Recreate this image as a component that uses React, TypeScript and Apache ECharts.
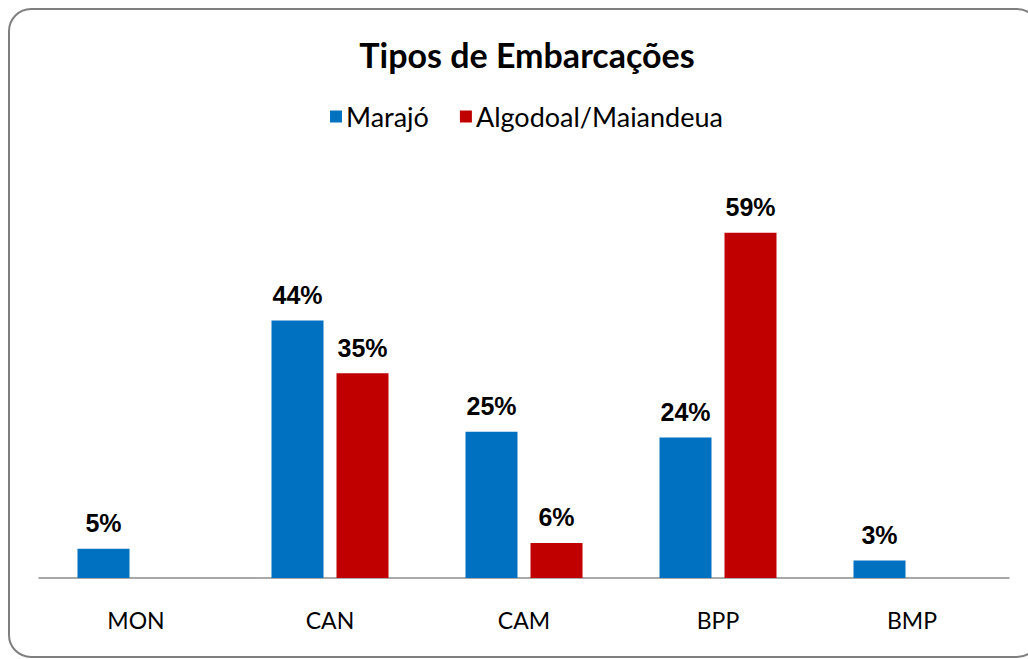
import React, { useEffect, useRef } from "react";
import * as echarts from "echarts";

const categories = ["MON", "CAN", "CAM", "BPP", "BMP"];
const marajo = [5, 44, 25, 24, 3];
const algodoal = [null, 35, 6, 59, null];
const seriesNames = ["Marajó", "Algodoal/Maiandeua"];
const titleText = "Tipos de Embarcações";

export default function App() {
  const ref = useRef<HTMLDivElement>(null);
  useEffect(() => {
    const chart = echarts.init(ref.current!, null, { renderer: "svg" });
    const labelStyle = {
      show: true,
      position: "top",
      distance: 13,
      formatter: "{c}%",
      fontFamily: "Liberation Sans, Arial, sans-serif",
      fontWeight: "bold",
      fontSize: 25,
      color: "#000",
    };
    chart.setOption({
      animation: false,
      backgroundColor: "#fff",
      title: {
        text: titleText,
        left: 522,
        textAlign: "center",
        top: 32,
        textStyle: { fontFamily: "Lato, sans-serif", fontWeight: "bold", fontSize: 34, color: "#000" },
      },
      legend: {
        top: 98,
        left: 325,
        itemWidth: 12,
        itemHeight: 12,
        itemGap: 31,
        icon: "rect",
        textStyle: { fontFamily: "Lato, sans-serif", fontSize: 27, color: "#000", padding: [0, 0, 0, -1] },
        data: seriesNames,
      },
      grid: { left: 39, right: 19, top: 168.5, bottom: 81 },
      xAxis: {
        type: "category",
        data: categories,
        axisLine: { lineStyle: { color: "#8c8c8c", width: 1.5 } },
        axisTick: { show: false },
        axisLabel: { margin: 30, fontFamily: "Lato, sans-serif", fontSize: 23, color: "#000" },
      },
      yAxis: {
        type: "value",
        min: 0,
        max: 70,
        show: false,
        splitLine: { show: false },
      },
      graphic: [
        {
          type: "rect",
          shape: { x: 9, y: 9, width: 1030, height: 648, r: 22 },
          style: { fill: "none", stroke: "#7f7f7f", lineWidth: 2 },
          z: 100,
        },
      ],
      series: [
        {
          name: seriesNames[0],
          type: "bar",
          data: marajo,
          barWidth: 52,
          barGap: "25%",
          itemStyle: { color: "#0070C0" },
          label: labelStyle,
        },
        {
          name: seriesNames[1],
          type: "bar",
          data: algodoal,
          barWidth: 52,
          barGap: "25%",
          itemStyle: { color: "#C00000" },
          label: labelStyle,
        },
      ],
    });
    return () => chart.dispose();
  }, []);
  return <div ref={ref} style={{ position: "fixed", left: 0, top: 0, width: 1028, height: 659 }} />;
}
